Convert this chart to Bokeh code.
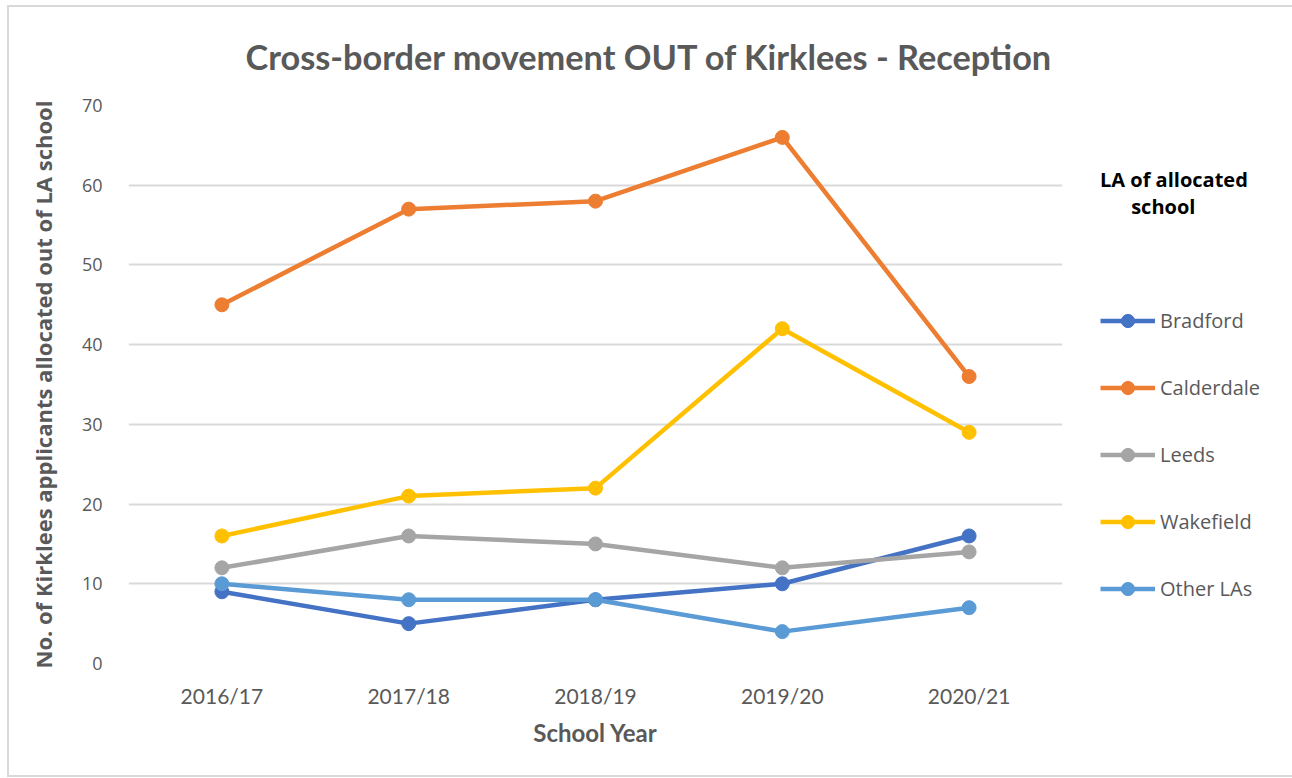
from bokeh.plotting import figure
from bokeh.models import Legend, LegendItem, FactorRange, Range1d, SingleIntervalTicker
from bokeh.embed import file_html
from bokeh.resources import INLINE

years = ["2016/17", "2017/18", "2018/19", "2019/20", "2020/21"]
bradford = [9, 5, 8, 10, 16]
calderdale = [45, 57, 58, 66, 36]
leeds = [12, 16, 15, 12, 14]
wakefield = [16, 21, 22, 42, 29]
other_las = [10, 8, 8, 4, 7]

series_names = ["Bradford", "Calderdale", "Leeds", "Wakefield", "Other LAs"]
series_values = [bradford, calderdale, leeds, wakefield, other_las]
colors = ["#4472C4", "#ED7D31", "#A5A5A5", "#FFC000", "#5B9BD5"]

p = figure(frame_width=934, frame_height=558,
           x_range=FactorRange(*years), y_range=Range1d(0, 70),
           output_backend="svg", toolbar_location=None,
           min_border_left=119, min_border_right=0,
           min_border_top=98, min_border_bottom=112)
p.styles = {"margin-left": "7px", "margin-top": "5px",
            "padding-right": "9px",
            "border": "2px solid #d9d9d9"}
p.outline_line_color = None
p.background_fill_color = "white"

items = []
for name, vals, col in zip(series_names, series_values, colors):
    l = p.line(years, vals, line_color=col, line_width=4.5)
    s = p.scatter(years, vals, size=14, fill_color=col, line_color=col)
    items.append(LegendItem(label=name, renderers=[l, s]))

legend = Legend(items=items, location=(38, 58),
                title="LA of allocated\n" + "\u00a0" * 6 + "school",
                title_text_font="Open Sans", title_text_font_style="bold",
                title_text_font_size="20px", title_text_color="#000000",
                title_standoff=84,
                label_text_font="Open Sans", label_text_font_size="20px",
                label_text_color="#595959",
                glyph_width=55, glyph_height=33, label_height=33,
                label_standoff=5, spacing=34, padding=0, margin=0,
                border_line_color=None, background_fill_alpha=0)
p.add_layout(legend, "right")

p.title.text = "Cross-border movement OUT of Kirklees - Reception"
p.title.text_font = "Lato"
p.title.text_font_style = "bold"
p.title.text_font_size = "34.3px"
p.title.text_color = "#595959"
p.title.align = "left"
p.title.vertical_align = "top"
p.title.offset = 117
p.title.standoff = 54

p.yaxis.ticker = SingleIntervalTicker(interval=10)
p.ygrid.grid_line_color = "#d9d9d9"
p.ygrid.grid_line_width = 2
p.xgrid.grid_line_color = None

for ax in (p.xaxis[0], p.yaxis[0]):
    ax.axis_line_color = None
    ax.major_tick_line_color = None
    ax.minor_tick_line_color = None
    ax.major_tick_in = 0
    ax.major_tick_out = 0
    ax.major_label_text_color = "#595959"
    ax.axis_label_text_color = "#595959"
    ax.axis_label_text_font_style = "bold"

p.yaxis.major_label_text_font = "Open Sans"
p.yaxis.major_label_text_font_size = "18px"
p.yaxis.major_label_standoff = 22
p.yaxis.axis_label = "No. of Kirklees applicants allocated out of LA school"
p.yaxis.axis_label_text_font = "Open Sans"
p.yaxis.axis_label_text_font_size = "22px"
p.yaxis.axis_label_standoff = 21

p.xaxis.major_label_text_font = "Lato"
p.xaxis.major_label_text_font_size = "21px"
p.xaxis.major_label_standoff = 19
p.xaxis.axis_label = "School Year"
p.xaxis.axis_label_text_font = "Lato"
p.xaxis.axis_label_text_font_size = "24px"
p.xaxis.axis_label_standoff = 7

open("out.html", "w").write(file_html(p, INLINE))
